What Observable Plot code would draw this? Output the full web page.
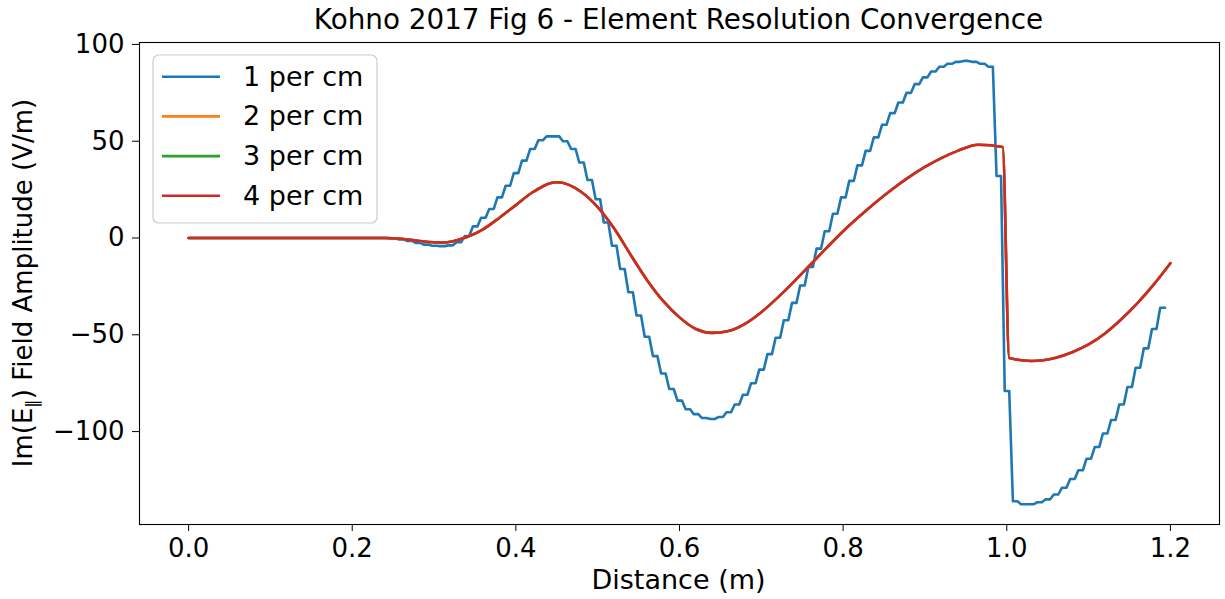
<!DOCTYPE html>
<html><head><meta charset="utf-8">
<script src="https://cdn.jsdelivr.net/npm/d3@7"></script>
<script src="https://cdn.jsdelivr.net/npm/@observablehq/plot@0.6"></script>
<style>
html,body{margin:0;padding:0;background:#fff;}
#chart{width:1225px;height:599px;}
text{font-family:"DejaVu Sans",sans-serif;}
</style></head><body><div id="chart"></div>
<script>
// ---- data ----
const titleText = "Kohno 2017 Fig 6 - Element Resolution Convergence";
const xLabelText = "Distance (m)";
const seriesNames = ["1 per cm", "2 per cm", "3 per cm", "4 per cm"];
const seriesColors = ["#1f77b4", "#ff7f0e", "#2ca02c", "#d62728"];
const xTicks = [0, 0.2, 0.4, 0.6, 0.8, 1.0, 1.2];
const yTicks = [-100, -50, 0, 50, 100];

// 1 per cm: one value per element (1 cm grid starting at 0 m)
const coarseStart = 0, coarseStep = 0.01;
const coarseAmp = [
  0,0,0,0,0,0,0,0,0,0, 0,0,0,0,0,0,0,0,0,0, 0,0,0,0,0,
  -0.3,-0.8,-1.5,-2.5,-3.4,-4,-4.2,-3.8,-2.2,1,
  6,10.5,15,21,27,33.5,40,46,50.5,52.5,
  52.5,50,46,39,30,20,8,-4,-16,-28,
  -40,-51,-61,-70,-78,-84,-88.5,-91,-93,-93.5,
  -92.5,-90,-86,-81,-75,-68,-60,-51.5,-42.5,-33.5,
  -24.5,-15,-5.5,3.5,12.5,21,29.5,37.5,45,52,
  58.5,64.5,70,75,79.5,83,86,88.5,90,91,
  91.5,91,90,88.5,32,-79,-136,-137.5,-137.5,-136.5,
  -135,-132.5,-129,-124.5,-120,-114,-108,-101,-94,-86,
  -77,-67,-57,-47,-36
];

// 2, 3 and 4 per cm (converged, visually identical)
const fineDistance = [0,0.02,0.04,0.06,0.08,0.10,0.12,0.14,0.16,0.18,0.20,0.22,0.24,0.26,0.28,0.31,0.34,0.36,0.38,
  0.40,0.42,0.45,0.48,0.50,0.52,0.54,0.56,0.58,0.60,0.62,0.64,0.66,0.68,0.70,0.72,0.74,0.76,0.78,
  0.80,0.82,0.84,0.86,0.88,0.90,0.92,0.94,0.965,0.995,1.003,1.03,1.06,1.08,1.10,1.12,1.14,1.16,1.18,1.20];
const amp2 = [0,0,0,0,0,0,0,0,0,0,0,0,0,-0.4,-1.4,-2.4,0.5,4.5,10.5,
  17,23.5,28.8,23.8,16,5,-8.5,-21.5,-32.5,-41,-47,-49,-48,-44.3,-38.3,-30.8,-22.5,-13.8,-5,
  3.5,11.2,18.5,25.2,31.3,36.7,41.3,45,48.2,47,-62,-63.5,-61.8,-59,-55,-49.3,-42,-33.5,-23.8,-13];
const amp3 = [0,0,0,0,0,0,0,0,0,0,0,0,0,-0.4,-1.4,-2.4,0.5,4.5,10.5,
  17,23.5,28.8,23.8,16,5,-8.5,-21.5,-32.5,-41,-47,-49,-48,-44.3,-38.3,-30.8,-22.5,-13.8,-5,
  3.5,11.2,18.5,25.2,31.3,36.7,41.3,45,48.2,47,-62,-63.5,-61.8,-59,-55,-49.3,-42,-33.5,-23.8,-13];
const amp4 = [0,0,0,0,0,0,0,0,0,0,0,0,0,-0.4,-1.4,-2.4,0.5,4.5,10.5,
  17,23.5,28.8,23.8,16,5,-8.5,-21.5,-32.5,-41,-47,-49,-48,-44.3,-38.3,-30.8,-22.5,-13.8,-5,
  3.5,11.2,18.5,25.2,31.3,36.7,41.3,45,48.2,47,-62,-63.5,-61.8,-59,-55,-49.3,-42,-33.5,-23.8,-13];

// ---- build tables ----
const s1 = coarseAmp.map((v, i) => ({x: coarseStart + i * coarseStep, y: v}));
const fineSeries = [amp2, amp3, amp4].map(arr => arr.map((v, i) => ({x: fineDistance[i], y: v})));

const minusFmt = d => (d < 0 ? "\u2212" + Math.abs(d) : String(d));

// element-wise curve: each value held around its node, ramped between nodes
function curveElement(context) {
  let px, py, dx, n = 0;
  return {
    areaStart() {}, areaEnd() {},
    lineStart() { n = 0; },
    lineEnd() { if (n > 1) context.lineTo(px + dx * 0.35, py); },
    point(x, y) {
      x = +x; y = +y;
      if (n === 0) context.moveTo(x, y);
      else {
        dx = x - px;
        context.lineTo(px + dx * 0.3, py);
        context.lineTo(x - dx * 0.25, y);
        context.lineTo(x, y);
      }
      px = x; py = y; n++;
    }
  };
}

const chart = Plot.plot({
  width: 1225,
  height: 599,
  marginLeft: 139,
  marginRight: 6,
  marginTop: 42,
  marginBottom: 75,
  style: {fontFamily: "DejaVu Sans", fontSize: "26px", color: "black", background: "white", overflow: "visible"},
  x: {domain: [-0.06, 1.26], ticks: xTicks, tickFormat: d3.format(".1f"), tickSize: 7, tickPadding: 7, label: null},
  y: {domain: [-148, 101], ticks: yTicks, tickFormat: minusFmt, tickSize: 7, tickPadding: 8, label: null},
  marks: [
    Plot.line(s1, {x: "x", y: "y", stroke: seriesColors[0], strokeWidth: 2.6, curve: curveElement}),
    Plot.line(fineSeries[0], {x: "x", y: "y", stroke: seriesColors[1], strokeWidth: 2.6, curve: "monotone-x"}),
    Plot.line(fineSeries[1], {x: "x", y: "y", stroke: seriesColors[2], strokeWidth: 2.6, curve: "monotone-x"}),
    Plot.line(fineSeries[2], {x: "x", y: "y", stroke: seriesColors[3], strokeWidth: 2.6, curve: "monotone-x"}),
    Plot.frame({stroke: "black", strokeWidth: 1.1})
  ]
});
document.getElementById("chart").appendChild(chart);

const svg = d3.select(chart);
svg.selectAll("text").attr("fill", "black");

// title
svg.append("text").attr("x", 678.5).attr("y", 29).attr("text-anchor", "middle")
  .attr("font-size", 27.8).attr("fill", "black").text(titleText);
// x label
svg.append("text").attr("x", 678.5).attr("y", 589).attr("text-anchor", "middle")
  .attr("font-size", 27).attr("fill", "black").text(xLabelText);
// y label with subscript
const yl = svg.append("text").attr("transform", "translate(32,283) rotate(-90)")
  .attr("text-anchor", "middle").attr("font-size", 26).attr("fill", "black");
yl.append("tspan").text("Im(E");
yl.append("tspan").attr("font-size", 17).attr("dy", 6).text("\u2225");
yl.append("tspan").attr("dy", -6).text(") Field Amplitude (V/m)");

// legend
const lg = svg.append("g");
lg.append("rect").attr("x", 153).attr("y", 55).attr("width", 224).attr("height", 168).attr("rx", 6)
  .attr("fill", "white").attr("fill-opacity", 0.8).attr("stroke", "#cccccc").attr("stroke-width", 1.2);
seriesNames.forEach((name, i) => {
  const cy = 76.7 + i * 39.7;
  lg.append("line").attr("x1", 162).attr("x2", 220).attr("y1", cy).attr("y2", cy)
    .attr("stroke", seriesColors[i]).attr("stroke-width", 2.6);
  lg.append("text").attr("x", 243).attr("y", cy + 9).attr("text-anchor", "start")
    .attr("font-size", 27).attr("fill", "black").text(name);
});
</script>
</body></html>
